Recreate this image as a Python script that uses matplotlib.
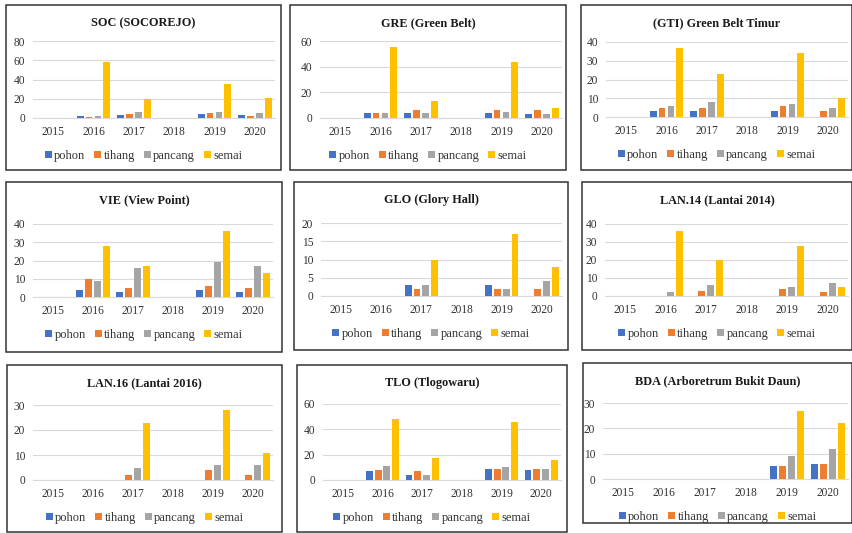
import matplotlib.pyplot as plt
import numpy as np
from matplotlib.patches import Rectangle

# Data (counts per year)
years = ["2015", "2016", "2017", "2018", "2019", "2020"]
series = ["pohon", "tihang", "pancang", "semai"]
colors = ["#4472C4", "#ED7D31", "#A5A5A5", "#FFC000"]

titles = [
    "SOC (SOCOREJO)", "GRE (Green Belt)", "(GTI) Green Belt Timur",
    "VIE (View Point)", "GLO (Glory Hall)", "LAN.14 (Lantai 2014)",
    "LAN.16 (Lantai 2016)", "TLO (Tlogowaru)", "BDA (Arboretrum Bukit Daun)",
]

# each list: values per year for pohon, tihang, pancang, semai
soc = [[0, 2, 3, 0, 4, 3], [0, 1, 4, 0, 5, 2], [0, 2, 6, 0, 6, 5], [0, 58, 20, 0, 35, 21]]
gre = [[0, 4, 4, 0, 4, 3], [0, 4, 6, 0, 6, 6], [0, 4, 4, 0, 5, 3], [0, 55, 13, 0, 44, 8]]
gti = [[0, 3, 3, 0, 3, 0], [0, 5, 5, 0, 6, 3], [0, 6, 8, 0, 7, 5], [0, 37, 23, 0, 34, 10]]
vie = [[0, 4, 3, 0, 4, 3], [0, 10, 5, 0, 6, 5], [0, 9, 16, 0, 19, 17], [0, 28, 17, 0, 36, 13]]
glo = [[0, 0, 3, 0, 3, 0], [0, 0, 2, 0, 2, 2], [0, 0, 3, 0, 2, 4], [0, 0, 10, 0, 17, 8]]
lan14 = [[0, 0, 0, 0, 0, 0], [0, 0, 3, 0, 4, 2], [0, 2, 6, 0, 5, 7], [0, 36, 20, 0, 28, 5]]
lan16 = [[0, 0, 0, 0, 0, 0], [0, 0, 2, 0, 4, 2], [0, 0, 5, 0, 6, 6], [0, 0, 23, 0, 28, 11]]
tlo = [[0, 7, 4, 0, 9, 8], [0, 8, 7, 0, 9, 9], [0, 11, 4, 0, 10, 9], [0, 48, 17, 0, 46, 16]]
bda = [[0, 0, 0, 0, 5, 6], [0, 0, 0, 0, 5, 6], [0, 0, 0, 0, 9, 12], [0, 0, 0, 0, 27, 22]]
panels = [soc, gre, gti, vie, glo, lan14, lan16, tlo, bda]

ymax = [80, 60, 40, 40, 20, 40, 30, 60, 30]
ystep = [20, 20, 10, 10, 5, 10, 10, 20, 10]

# layout in pixels (from top): chart box and plot area
W, H = 853, 533
boxes = [
    (6, 5, 281, 170), (290, 5, 566, 170), (581, 5, 852, 170),
    (6, 182, 282, 352), (294, 182, 568, 350), (582, 182, 852, 350),
    (7, 365, 282, 532), (297, 365, 567, 532), (583, 363, 852, 523),
]
areas = [
    (33, 275, 41, 118), (320, 562, 41, 118), (606, 848, 42, 117),
    (33, 273, 224, 297), (321, 562, 223, 296), (605, 848, 224, 296),
    (33, 273, 405, 480), (323, 561, 404, 480), (603, 848, 403, 479),
]

plt.rcParams["font.family"] = "Liberation Serif"

fig = plt.figure(figsize=(W / 100, H / 100), dpi=100)
fig.patch.set_facecolor("white")

x = np.arange(len(years))
slot = 0.22
bw = 0.17

for i, data in enumerate(panels):
    bx0, by0, bx1, by1 = boxes[i]
    fig.patches.append(Rectangle((bx0 / W, 1 - by1 / H), (bx1 - bx0) / W, (by1 - by0) / H,
                                 transform=fig.transFigure, fill=False,
                                 edgecolor="#333333", linewidth=1.1))
    ax0, ax1, ay0, ay1 = areas[i]
    ax = fig.add_axes([ax0 / W, 1 - ay1 / H, (ax1 - ax0) / W, (ay1 - ay0) / H])
    for j, name in enumerate(series):
        ax.bar(x + (j - 1.5) * slot, data[j], bw, color=colors[j], label=name, zorder=3)
    ax.set_xlim(-0.5, len(years) - 0.5)
    ax.set_ylim(0, ymax[i])
    ax.set_yticks(np.arange(0, ymax[i] + 1, ystep[i]))
    ax.set_xticks(x)
    ax.set_xticklabels(years)
    ax.tick_params(length=0, labelsize=8.3, colors="#333333", pad=6)
    ax.tick_params(axis="y", pad=5.5)
    ax.grid(axis="y", color="#D9D9D9", linewidth=0.8, zorder=0)
    for s in ["top", "right", "left"]:
        ax.spines[s].set_visible(False)
    ax.spines["bottom"].set_color("#D9D9D9")
    ax.set_facecolor("none")
    fig.text((bx0 + bx1) / 2 / W, 1 - (by0 + 18) / H, titles[i], ha="center", va="center",
             fontsize=8.8, fontweight="bold", color="#1a1a1a")
    ax.legend(loc="center", bbox_to_anchor=((bx0 + bx1) / 2 / W, 1 - (ay1 + 38) / H),
              bbox_transform=fig.transFigure, ncol=4, frameon=False, fontsize=9,
              handlelength=0.55, handleheight=0.55, handletextpad=0.2, columnspacing=0.7,
              labelcolor="#333333")

fig.savefig("out.png", dpi=100)
